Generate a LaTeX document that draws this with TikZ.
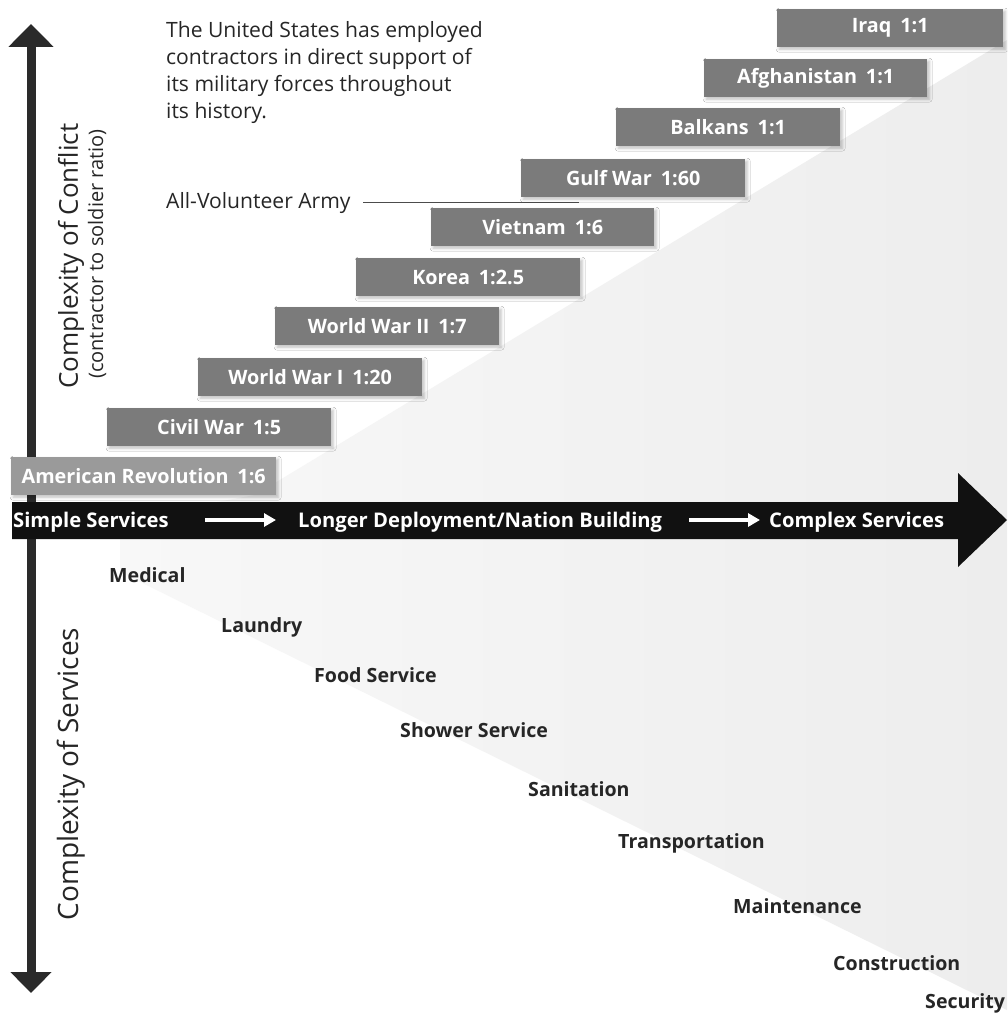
\documentclass[tikz,border=0pt]{standalone}
\usepackage{fontspec}
\setmainfont{Open Sans}
\usetikzlibrary{arrows.meta,shadows.blur}
\definecolor{boxgray}{HTML}{7B7B7B}
\definecolor{revgray}{HTML}{9A9A9A}
\definecolor{axisdark}{HTML}{2A2A2A}
\definecolor{bandblack}{HTML}{111111}
\definecolor{shadeA}{HTML}{F8F8F8}
\definecolor{shadeB}{HTML}{EDEDED}
\tikzset{
  warbox/.style={fill=boxgray, text=white, anchor=north west, inner sep=0pt,
    minimum width=224pt, minimum height=38pt,
    font=\fontsize{19.8}{21}\selectfont\bfseries,
    blur shadow={shadow xshift=2pt, shadow yshift=-2pt, shadow blur radius=3pt, shadow opacity=25}},
  bandtext/.style={text=white, inner sep=0pt, anchor=base west, font=\fontsize{20.2}{21}\selectfont\bfseries},
  whitearrow/.style={white, line width=4pt, -{Triangle[width=13pt,length=12pt]}},
  service/.style={anchor=base west, inner sep=0pt, text=black!85, font=\fontsize{19.6}{21}\selectfont\bfseries},
  axislabel/.style={rotate=90, inner sep=0pt, text=black!85},
  plain/.style={anchor=base west, inner sep=0pt, text=black!85, font=\fontsize{21.1}{27}\selectfont}
}
\begin{document}
\begin{tikzpicture}[x=1pt,y=-1pt]
\useasboundingbox[fill=white] (0,0) rectangle (1007,1014);
% light grey background region
\shade[left color=shadeA, right color=shadeB]
  (255,495) -- (1007,40) -- (1007,1010) -- (120,572) -- (120,520) -- cycle;
% vertical axis
\coordinate (vtop) at (31,24);
\coordinate (vbot) at (31,993);
\draw[axisdark, line width=9pt, {Triangle[width=44pt,length=23pt]}-{Triangle[width=40pt,length=21pt]}] (vtop) -- (vbot);
% axis labels
\node[axislabel, font=\fontsize{26}{27}\selectfont] (conflict) at (71,256) {Complexity of Conflict};
\node[axislabel, font=\fontsize{20}{21}\selectfont] (ratio) at (97,254) {(contractor to soldier ratio)};
\node[axislabel, font=\fontsize{28}{29}\selectfont] (services) at (71,774) {Complexity of Services};
% intro text
\node[plain, align=left, anchor=north west] (intro) at (166,21)
  {The United States has employed\\contractors in direct support of\\its military forces throughout\\its history.};
% all-volunteer army
\node[plain] (ava) at (166,208) {All-Volunteer Army};
\coordinate (avastart) at (363,202);
\coordinate (avaend) at (579,202);
\draw[black!70, line width=0.9pt] (avastart) -- (avaend);
% war boxes
\node[warbox, fill=revgray, minimum width=265pt] (amrev) at (11,457) {American Revolution\hspace{0.45em}1:6};
\node[warbox] (civil) at (107,408) {Civil War\hspace{0.45em}1:5};
\node[warbox] (wwi) at (198,358) {World War I\hspace{0.45em}1:20};
\node[warbox] (wwii) at (275,307) {World War II\hspace{0.45em}1:7};
\node[warbox] (korea) at (356,258) {Korea\hspace{0.45em}1:2.5};
\node[warbox, minimum width=223pt] (vietnam) at (431,208) {Vietnam\hspace{0.45em}1:6};
\node[warbox] (gulf) at (521,159) {Gulf War\hspace{0.45em}1:60};
\node[warbox] (balkans) at (616,108) {Balkans\hspace{0.45em}1:1};
\node[warbox, minimum width=223pt] (afgh) at (704,59) {Afghanistan\hspace{0.45em}1:1};
\node[warbox, minimum width=226pt] (iraq) at (777,9) {Iraq\hspace{0.45em}1:1};
% big black band arrow
\fill[bandblack] (12,502) -- (958,502) -- (958,473) -- (1007,520) -- (958,567) -- (958,539) -- (12,539) -- cycle;
\node[bandtext] (simple) at (13,527) {Simple Services};
\node[bandtext] (longer) at (298,527) {Longer Deployment/Nation Building};
\node[bandtext] (complex) at (769,527) {Complex Services};
\coordinate (a1s) at (205,520);
\coordinate (a1e) at (276,520);
\coordinate (a2s) at (689,520);
\coordinate (a2e) at (760,520);
\draw[whitearrow] (a1s) -- (a1e);
\draw[whitearrow] (a2s) -- (a2e);
% services
\node[service] (medical) at (109,582) {Medical};
\node[service] (laundry) at (221,632) {Laundry};
\node[service] (food) at (314,682) {Food Service};
\node[service] (shower) at (400,737) {Shower Service};
\node[service] (sanit) at (528,796) {Sanitation};
\node[service] (transp) at (618,848) {Transportation};
\node[service] (maint) at (733,913) {Maintenance};
\node[service] (constr) at (833,970) {Construction};
\node[service] (secur) at (925,1008) {Security};
\end{tikzpicture}
\end{document}
